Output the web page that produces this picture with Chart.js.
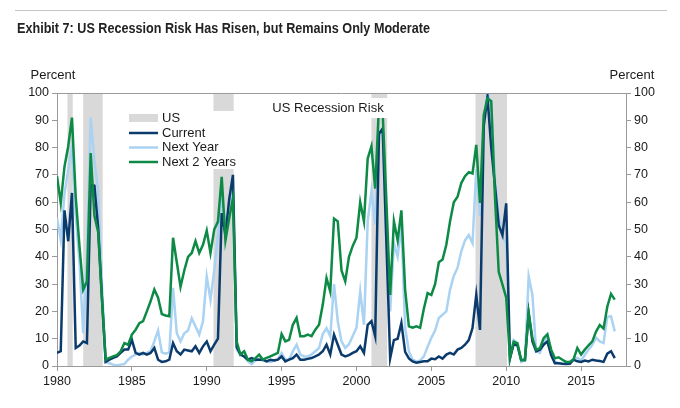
<!DOCTYPE html>
<html>
<head>
<meta charset="utf-8">
<script src="https://cdn.jsdelivr.net/npm/chart.js@4.4.0/dist/chart.umd.min.js"></script>
<style>
  body { margin: 0; background: #fff; }
  #wrap { position: relative; width: 680px; height: 408px; }
  #rule { position: absolute; left: 15px; top: 10px; width: 652px; height: 0; border-top: 1.5px solid #c4c4c4; }
  #title { position: absolute; left: 17px; top: 19px; white-space: nowrap; transform-origin: 0 0;
           font: bold 15px "Liberation Sans Narrow", "Liberation Sans", Arial, sans-serif; color: #222; }
  canvas { position: absolute; left: 0; top: 0; }
</style>
</head>
<body>
<div id="wrap">
  <canvas id="grafico" width="680" height="408"></canvas>
  <div id="rule"></div>
  <div id="title">Exhibit 7: US Recession Risk Has Risen, but Remains Only Moderate</div>
</div>
<script>
// Probabilidades trimestrais (%), 1980T1 em diante
const atual = [4.8, 5.4, 57, 45.7, 63.4, 6.6, 7.5, 9, 8.4, 66.4, 66, 50.5, 25, 1.5, 2.3, 3, 3.5, 4.8, 6, 6,
  9.6, 4.8, 4.2, 4.8, 4.2, 4.8, 6.6, 2.3, 1.5, 1.7, 2.3, 8.4, 5.4, 4.2, 6, 5.7, 5.4, 7.2, 4.8, 7.2,
  9, 5.4, 7.8, 10, 56, 48, 61, 70, 7, 4.2, 3.5, 2.3, 2.9, 2.3, 2.3, 2.3, 1.7, 2.3, 2, 2.3,
  3.5, 1.7, 2.3, 2.9, 4.2, 2.3, 2.3, 2.6, 2.9, 3.5, 4.2, 5.4, 7.8, 4.2, 11.5, 7.8, 4.2, 3.5, 4, 4.8,
  5.4, 7.2, 4.8, 15.1, 16.4, 10.9, 85, 87, 45, 2.8, 9.5, 10, 15.8, 5.2, 2.8, 1.7, 1.2, 1.5, 1.7, 1.7,
  2.7, 2.5, 3.5, 2.7, 4.2, 4.8, 4.2, 6, 6.6, 7.8, 9.5, 13.9, 26.1, 13.2, 88, 98.6, 80, 66, 51.6, 48,
  59.6, 2.8, 8, 7.5, 2.2, 2.2, 19.4, 9, 5.4, 6, 7.8, 9, 4, 1, 1, 0.8, 0.7, 0.8, 2.3, 1.7,
  1.5, 2, 1.7, 2.3, 2, 1.8, 1.5, 4.5, 5.4, 2.9];

const proximoAno = [54.2, 46.3, 63, 72, 80, 55, 38, 12, 40, 91, 75, 64, 30, 1.5, 1, 0.5, 0.2, 0.5, 0.7, 2.3,
  3.5, 4.2, 4.8, 4.2, 4.8, 5.4, 9, 13, 5, 4.5, 5, 28.6, 12, 9, 12, 13, 17.5, 14.5, 11.5, 16.4,
  32.8, 24.3, 35, 48, 62, 52, 58, 64, 6, 4.2, 3.5, 1.7, 0.7, 2, 2.7, 2, 1.7, 1.5, 2, 2.5,
  4.8, 2.3, 2.3, 5.4, 7.8, 4.2, 3.5, 3.5, 4.2, 5.4, 6.6, 11.7, 13.9, 10.9, 30, 16.4, 9, 6.6, 8, 11,
  14, 27.3, 15.1, 53, 64, 51.8, 83.5, 87, 45, 20, 45, 40, 52, 14, 5.4, 2.3, 1.7, 2, 3.5, 7,
  10.3, 13, 17.6, 18.8, 20, 28, 33, 36, 42, 46, 48, 45, 72, 55, 90, 100, 96, 68, 55, 47,
  45, 4, 9.5, 8.5, 1.5, 2, 32.8, 26, 5.4, 4.8, 8.4, 10.9, 5, 1.7, 1, 0.8, 1, 1.5, 2.5, 3,
  2, 4, 6, 7.8, 10.3, 9, 8.4, 18, 18.2, 12.7];

const proximos2Anos = [69.5, 59.7, 73, 80.5, 91, 62, 44, 28, 31, 78, 55, 49, 25, 2.3, 3, 3.5, 4, 5.4, 8.4, 7.8,
  11.5, 13.3, 15.7, 16.4, 20, 23.7, 28, 25, 19, 18.5, 18.2, 47, 38, 29, 35, 40, 41.4, 45.7, 41.4, 44.4,
  49.6, 41.4, 50, 52.9, 69.3, 46, 54, 61.4, 8.9, 4.2, 5.4, 2.3, 1.7, 2.9, 4.2, 2.3, 3, 3.5, 4.2, 4.8,
  11.7, 9, 9.6, 15.1, 17.6, 10.9, 10.9, 11.5, 10.9, 13.3, 15.1, 22.5, 32.2, 27.3, 54, 53, 35, 31, 40, 44,
  47, 60, 53, 76, 80.5, 65, 95, 93, 60, 26, 53, 46, 57, 28, 14.5, 14, 14.5, 14, 21, 26.7,
  26, 30, 38, 39, 44.4, 53, 60, 62, 67, 69.5, 71, 70.5, 81, 59.7, 92, 98, 97, 62, 34.5, 29.8,
  25, 2.8, 8.9, 8.3, 2.2, 2.2, 19.4, 10.2, 5.9, 6.5, 10.2, 11.6, 6, 2.8, 3.2, 2.3, 1.5, 1.5, 2.5, 6.6,
  4.2, 6, 7.6, 9, 12.6, 15, 13.7, 21.7, 26.4, 24.3];

// Recessões (anos decimais, início e fim da faixa cinza)
const recessoes = [[1980.7, 1981.05], [1981.75, 1983.05], [1990.45, 1991.8], [2001.0, 2002.05], [2007.95, 2010.05]];

const trimestres = atual.map((_, i) => 1980 + i / 4);
const ticksY = [0, 10, 20, 30, 40, 50, 60, 70, 80, 90, 100];

const cores = {
  atual: '#0b3b6c',
  proximoAno: '#a9d2f3',
  proximos2Anos: '#0d8a45',
  recessao: '#d9d9d9',
  eixo: '#9a9a9a'
};

function serie(valores) {
  return valores.map((v, i) => ({ x: trimestres[i], y: v }));
}

// título estreito: comprime até a largura do original
const titulo = document.getElementById('title');
titulo.style.transform = 'scaleX(' + (413 / titulo.offsetWidth) + ')';

Chart.defaults.font.family = '"Liberation Sans", Arial, sans-serif';
Chart.defaults.color = '#1a1a1a';

const faixas = {
  id: 'faixas',
  beforeDatasetsDraw(chart) {
    const { ctx, chartArea: a, scales: { x } } = chart;
    ctx.save();
    ctx.fillStyle = cores.recessao;
    recessoes.forEach(([ini, fim]) => {
      const x0 = x.getPixelForValue(ini), x1 = x.getPixelForValue(fim);
      ctx.fillRect(x0, a.top, x1 - x0, a.bottom - a.top);
    });
    ctx.restore();
  },
  afterDatasetsDraw(chart) {
    const { ctx, chartArea: a } = chart;
    ctx.save();
    // moldura superior
    ctx.strokeStyle = cores.eixo;
    ctx.lineWidth = 1;
    ctx.beginPath();
    ctx.moveTo(a.left, a.top + 0.5);
    ctx.lineTo(a.right, a.top + 0.5);
    ctx.stroke();

    // legenda
    const lx = a.left + 52, ly = a.top + 18;
    ctx.fillStyle = '#fff';
    ctx.fillRect(lx, ly, 128, 58);
    ctx.font = '13px "Liberation Sans", Arial, sans-serif';
    ctx.textBaseline = 'middle';
    const sx = a.left + 72, tx = a.left + 105;
    ctx.fillStyle = cores.recessao;
    ctx.fillRect(sx, a.top + 21, 29, 8);
    ctx.fillStyle = '#1a1a1a';
    ctx.fillText('US', tx, a.top + 25);
    const itens = [['Current', cores.atual, 40], ['Next Year', cores.proximoAno, 54.5], ['Next 2 Years', cores.proximos2Anos, 69]];
    itens.forEach(([txt, cor, dy]) => {
      ctx.strokeStyle = cor;
      ctx.lineWidth = 2.5;
      ctx.beginPath();
      ctx.moveTo(sx, a.top + dy);
      ctx.lineTo(sx + 29, a.top + dy);
      ctx.stroke();
      ctx.fillStyle = '#1a1a1a';
      ctx.fillText(txt, tx, a.top + dy);
    });

    // rótulo interno
    ctx.fillStyle = '#fff';
    ctx.fillRect(a.left + 212, a.top + 5, 120, 20);
    ctx.fillStyle = '#1a1a1a';
    ctx.textAlign = 'center';
    ctx.fillText('US Recession Risk', a.left + 271, a.top + 15.5);

    // "Percent" nos dois eixos
    ctx.fillText('Percent', a.left - 4, a.top - 18);
    ctx.fillText('Percent', a.right + 6, a.top - 18);
    ctx.restore();
  }
};

const eixoY = (posicao, largura) => ({
  position: posicao,
  min: 0,
  max: 100,
  border: { color: cores.eixo },
  grid: { drawOnChartArea: false, drawTicks: true, tickLength: 5, color: cores.eixo },
  ticks: { stepSize: 10, padding: 3, font: { size: 12.5 }, callback: v => ticksY.includes(v) ? String(v) : '' },
  afterFit(s) { s.width = largura; }
});

new Chart(document.getElementById('grafico'), {
  type: 'line',
  data: {
    datasets: [
      { label: 'Current', data: serie(atual), borderColor: cores.atual, order: 1 },
      { label: 'Next Year', data: serie(proximoAno), borderColor: cores.proximoAno, order: 2 },
      { label: 'Next 2 Years', data: serie(proximos2Anos), borderColor: cores.proximos2Anos, order: 0 }
    ]
  },
  options: {
    responsive: false,
    animation: false,
    layout: { padding: { top: 93, left: 0, right: 0, bottom: 0 } },
    elements: {
      line: { borderWidth: 2.5, tension: 0, fill: false },
      point: { radius: 0 }
    },
    plugins: { legend: { display: false }, tooltip: { enabled: false } },
    scales: {
      x: {
        type: 'linear',
        min: 1980,
        max: 2018,
        border: { color: cores.eixo },
        grid: { drawOnChartArea: false, drawTicks: true, tickLength: 5, color: cores.eixo },
        ticks: { stepSize: 5, includeBounds: false, autoSkip: false, maxRotation: 0, padding: 3, font: { size: 12.5 }, callback: v => String(v) },
        afterFit(s) { s.height = 42; }
      },
      y: eixoY('left', 57),
      y2: eixoY('right', 54)
    }
  },
  plugins: [faixas]
});
</script>
</body>
</html>
